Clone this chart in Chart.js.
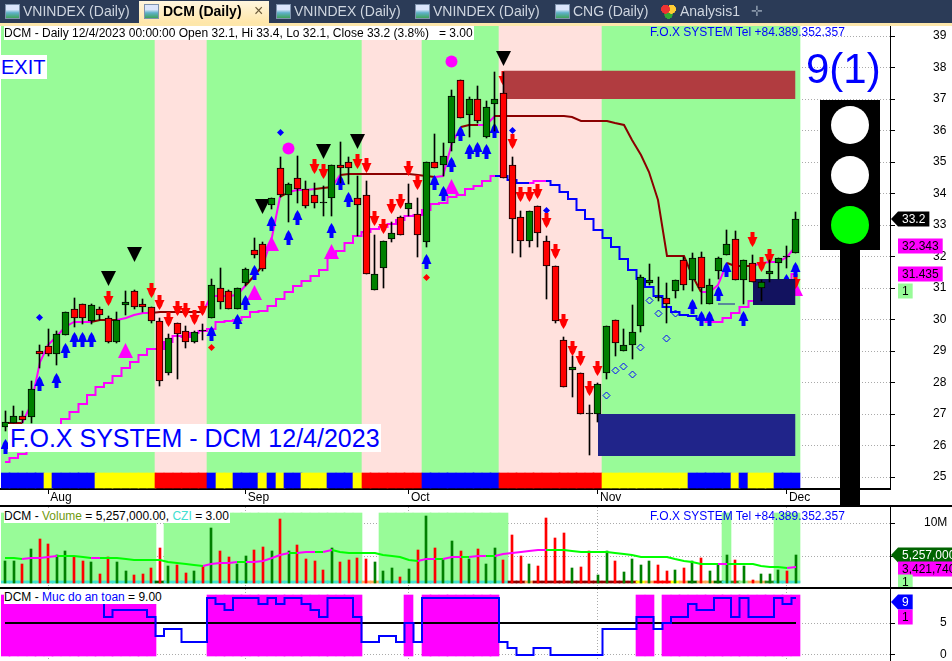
<!DOCTYPE html>
<html>
<head>
<meta charset="utf-8">
<title>DCM (Daily)</title>
<script src="https://cdn.jsdelivr.net/npm/chart.js@4/dist/chart.umd.js"></script>
<style>
  html, body { margin: 0; padding: 0; background: #fff; width: 952px; height: 661px; overflow: hidden; }
  body, div, span { font-family: "Liberation Sans", Arial, sans-serif; }
  canvas { position: absolute; left: 0; display: block; }
  .abs { position: absolute; white-space: pre; }
  #tabbar { position: absolute; left: 0; top: 0; width: 952px; height: 23px; background: #2b3b57; }
  #tabline { position: absolute; left: 0; top: 23px; width: 952px; height: 3px; background: #fde7ab; }
  #activetab { position: absolute; left: 139px; top: 1px; width: 130px; height: 22px; background: linear-gradient(#fff6df, #ffe6a8); }
  .tab { position: absolute; top: 3px; font-size: 14px; color: #cfd6e0; }
  .tab.on { color: #000; font-weight: bold; }
  .icon { position: absolute; top: 4px; width: 15px; height: 15px; background: linear-gradient(#dce6fb 35%, #5fb0c8 60%, #3fa35a); border: 1px solid #7f93ad; box-sizing: border-box; }
  .lbl { background: #fff; font-size: 12px; line-height: 14px; color: #000; }
  .fox { color: #0000ff; font-size: 12px; }
  .sep { position: absolute; left: 0; width: 952px; height: 2px; background: #000; }
</style>
</head>
<body>
<canvas id="mainChart" width="952" height="506" style="top:0"></canvas>
<canvas id="volChart" width="952" height="81" style="top:507px"></canvas>
<canvas id="safeChart" width="952" height="72" style="top:589px"></canvas>

<div class="sep" style="top:505px"></div>
<div class="sep" style="top:587px"></div>

<div id="tabbar"></div>
<div id="tabline"></div>
<div id="activetab"></div>
<div class="icon" style="left:5px"></div><div class="tab" style="left:23px">VNINDEX (Daily)</div>
<div class="icon" style="left:144px"></div><div class="tab on" style="left:163px">DCM (Daily)</div>
<div class="tab" style="left:254px;color:#6b5a3a;font-size:16px;top:2px">×</div>
<div class="icon" style="left:276px"></div><div class="tab" style="left:294px">VNINDEX (Daily)</div>
<div class="icon" style="left:415px"></div><div class="tab" style="left:433px">VNINDEX (Daily)</div>
<div class="icon" style="left:555px"></div><div class="tab" style="left:573px">CNG (Daily)</div>
<div class="icon" style="left:661px;border:0;background:radial-gradient(circle at 30% 35%,#e33 30%,transparent 32%),radial-gradient(circle at 70% 35%,#fc3 30%,transparent 32%),radial-gradient(circle at 50% 72%,#3a3 30%,transparent 32%)"></div>
<div class="tab" style="left:680px">Analysis1</div>
<div class="tab" style="left:751px;color:#8795a8">✛</div>

<div class="abs lbl" style="left:4px;top:26px;padding-right:1px">DCM - Daily 12/4/2023 00:00:00 Open 32.1, Hi 33.4, Lo 32.1, Close 33.2 (3.8%)   = 3.00</div>
<div class="abs fox" style="left:650px;top:25px">F.O.X SYSTEM Tel +84.389.352.357</div>
<div class="abs" style="left:0;top:55px;width:47px;height:24px;line-height:24px;background:#fff;color:#0000ff;font-size:20px;text-indent:1px">EXIT</div>
<div class="abs" style="left:8px;top:424px;width:373px;height:28px;line-height:28px;background:#fff;color:#0000ff;font-size:25px;text-indent:2px">F.O.X SYSTEM - DCM 12/4/2023</div>

<div class="abs" style="left:806px;top:45px;font-size:42px;line-height:48px;color:#0000ff">9(1)</div>
<div class="abs" style="left:820px;top:100px;width:60px;height:150px;background:#000"></div>
<div class="abs" style="left:840px;top:250px;width:20px;height:255px;background:#000"></div>
<div class="abs" style="left:831px;top:106px;width:38px;height:38px;border-radius:50%;background:#fff"></div>
<div class="abs" style="left:831px;top:156px;width:38px;height:38px;border-radius:50%;background:#fff"></div>
<div class="abs" style="left:831px;top:206px;width:38px;height:38px;border-radius:50%;background:#00ff00"></div>

<div class="abs lbl" style="left:4px;top:509px;padding-right:1px">DCM - <span style="color:#6f9a10">Volume</span> = 5,257,000.00, <span style="color:#40e0d0">CZI</span> = 3.00</div>
<div class="abs fox" style="left:650px;top:509px">F.O.X SYSTEM Tel +84.389.352.357</div>
<div class="abs lbl" style="left:4px;top:590px;padding-right:1px">DCM - <span style="color:#0000ff">Muc do an toan</span> = 9.00</div>

<script>
// daily bars, 12 Jul 2023 .. 4 Dec 2023
var open = [26.6,26.7,26.95,26.9,29.0,29.15,28.9,29.5,30.35,30.5,29.95,30.35,30.05,29.3,30.45,30.9,30.5,30.4,29.95,28.3,29.9,29.65,29.3,29.65,
  30.05,31.0,30.9,30.35,31.15,32.2,32.4,33.65,34.8,33.95,34.5,34.15,33.95,33.7,33.85,34.9,35.0,33.85,33.95,30.95,31.65,32.55,33.25,33.5,33.35,
  32.45,35.0,34.9,35.6,37.6,36.5,37.0,35.8,36.85,37.2,34.9,33.25,32.5,33.6,32.5,31.7,29.35,28.4,28.3,27.0,27.0,28.3,30.0,29.0,29.2,29.8,31.15,
  30.7,30.7,30.9,31.9,31.25,32.0,30.5,31.55,32.05,32.55,31.25,31.8,31.0,31.45,31.8,32.0,32.1];
var high = [27.1,27.25,27.1,28.05,29.2,29.7,29.65,30.25,30.7,30.5,30.5,30.4,30.1,30.25,30.9,30.95,30.65,30.4,30.05,29.55,29.9,29.8,29.65,29.85,
  31.3,31.65,30.95,31.0,31.65,32.6,32.45,33.85,35.15,34.35,35.2,34.4,34.35,34.25,34.9,35.65,35.15,34.55,34.4,32.7,32.5,33.1,33.3,34.3,33.85,
  35.0,35.9,35.6,37.3,37.6,37.05,37.4,36.95,37.85,37.85,35.15,33.45,33.45,33.6,32.65,31.7,29.45,28.85,28.3,27.3,28.0,29.8,30.0,29.7,30.45,31.4,31.75,
  31.35,31.15,31.25,32.0,32.1,32.15,31.3,32.0,32.85,32.8,31.9,32.05,31.25,31.9,31.95,32.35,33.4];
var low = [26.45,26.7,26.7,26.7,28.45,28.85,28.55,29.5,29.75,29.85,29.85,30.0,29.25,29.25,30.15,30.35,30.25,29.9,27.9,28.25,28.1,29.1,29.25,29.35,
  30.05,30.35,30.35,30.35,31.05,31.95,31.55,33.5,33.9,33.1,33.7,33.55,33.55,33.3,33.3,34.35,34.3,32.65,31.45,30.95,31.0,32.45,32.7,33.3,32.0,
  32.3,34.8,34.55,35.35,36.4,35.8,36.25,35.75,36.0,34.5,32.1,32.0,32.3,32.3,30.65,29.9,27.85,27.55,27.0,25.7,26.75,28.1,28.85,29.0,28.75,29.6,31.1,
  30.6,29.9,30.7,30.95,30.9,30.5,30.5,31.3,32.05,31.25,30.5,31.2,30.6,31.2,31.3,31.65,32.1];
var close = [26.75,26.95,26.8,27.8,28.9,28.9,29.55,30.25,30.05,30.05,30.45,30.15,29.3,30.0,30.55,30.4,30.4,29.95,28.05,29.4,29.55,29.3,29.6,29.65,
  31.1,30.55,30.35,31.0,31.6,32.05,31.6,33.85,33.95,34.3,34.15,33.6,33.7,33.7,34.9,34.8,34.8,33.65,31.45,31.45,32.5,32.75,32.7,33.7,32.7,
  35.0,34.8,35.2,37.1,36.4,37.0,36.3,36.75,37.0,34.5,33.2,32.5,33.45,32.75,31.7,29.95,27.85,28.5,27.0,27.0,27.95,29.8,29.25,29.2,29.6,31.35,31.25,
  30.7,30.5,31.25,31.1,31.95,31.0,31.1,31.95,32.4,31.25,31.9,31.2,31.2,31.55,31.95,32.0,33.2];

// volume in millions, and its moving average
var volume = [4.35,4.35,3.9,6.1,7.6,6.9,5.25,5.85,5.0,4.35,4.2,2.4,5.0,4.2,2.9,2.3,2.4,3.3,6.3,3.6,3.75,2.6,2.9,3.6,
  9.25,5.85,4.95,3.9,5.1,6.0,6.45,5.85,10.6,5.85,6.7,4.65,4.35,3.0,6.3,4.2,4.5,4.8,4.65,4.2,2.9,3.3,2.0,3.15,6.0,
  11.0,6.3,4.65,7.3,5.85,4.65,6.1,3.9,6.3,4.5,8.2,5.1,3.9,3.6,10.75,7.75,8.5,3.3,3.45,5.85,2.3,5.85,4.35,2.7,4.65,3.75,4.35,
  3.75,2.9,3.0,3.3,4.35,4.8,2.9,3.75,5.26,4.5,3.6,1.5,2.4,2.4,3.0,2.9,5.26];
var volumeAvg = [4.85,4.8,4.7,4.75,4.85,4.95,5.1,5.1,5.1,4.95,4.8,4.85,4.85,4.8,4.6,4.55,4.55,4.55,4.45,4.2,4.1,3.95,3.75,3.65,
  3.9,4.0,4.1,4.2,4.2,4.25,4.4,4.8,5.25,5.5,5.5,5.65,5.75,5.75,6.0,5.75,5.6,5.6,5.6,5.5,5.25,5.1,4.9,4.45,4.35,
  4.65,4.7,4.7,4.95,5.0,5.0,5.05,5.15,5.15,5.45,5.6,5.75,5.85,6.0,6.05,6.05,6.05,5.85,5.75,5.7,5.65,5.65,5.5,5.45,5.3,5.0,5.0,
  5.0,4.9,4.6,4.35,4.2,3.95,3.95,3.9,3.95,3.95,3.9,3.85,3.65,3.5,3.5,3.35,3.5];

// "Muc do an toan" safety level
var safety = [9,9,9,9,9,9,9,9,9,9,9,9,6,7,7,7,7,6,3,4,4,2,2,2,
  9,8,7,9,9,9,8,9,8,9,9,8,7,6,9,9,9,6,2,2,3,3,2,5,2,
  9,9,9,9,9,9,9,9,9,2,1,0,0,1,1,0,0,0,0,0,0,4,4,4,4,6,6,
  4,5,6,6,8,7,7,9,9,6,9,6,6,6,9,8,9];
var safetyLine = 5;

// slow stop line under the price, then above it
var slowStop = [25.48,25.59,25.73,25.85,26.04,26.3,26.55,26.84,27.07,27.31,27.6,27.85,27.98,28.2,28.46,28.66,28.87,29.05,29.08,29.28,29.47,29.45,29.57,29.63,
  29.7,29.92,29.96,29.98,30.09,30.25,30.26,30.43,30.65,30.87,31.07,31.22,31.39,31.57,32.05,32.18,32.43,32.65,32.77,32.86,32.94,33.04,33.15,33.29,33.31,
  33.47,33.66,33.7,33.88,33.95,34.13,34.24,34.4,34.56,34.55,34.42,34.34,34.34,34.4,34.4,34.27,34.04,33.82,33.47,33.2,32.84,32.58,32.31,31.92,31.58,31.28,31.04,
  30.74,30.4,30.25,30.14,30.11,30.01,29.93,29.93,30.05,30.21,30.4,30.59,30.68,30.87,31.03,31.19,31.435];
var slowColors = ('M'.repeat(58) + 'BBBB' + 'MM' + 'B'.repeat(18) + 'M'.repeat(11)).split('');

// fast stop line
var fastStop = [26.72,26.72,26.72,27.28,28.65,29.19,29.47,29.76,29.92,29.92,29.93,30.0,30.0,30.0,30.05,30.16,30.2,30.2,30.25,30.25,30.25,30.25,30.25,30.25,
  30.74,30.76,30.76,30.78,31.09,31.38,31.73,32.62,33.9,34.05,34.11,34.11,34.13,34.17,34.21,34.59,34.62,34.62,34.62,34.62,34.62,34.62,34.62,34.62,34.59,
  34.55,34.53,34.55,35.6,36.12,36.17,36.17,36.17,36.46,36.46,36.46,36.46,36.46,36.46,36.46,36.46,36.46,36.42,36.31,36.31,36.31,36.31,36.25,36.17,35.7,35.22,34.68,
  33.79,32.01,32.01,32.01,31.41,30.87,30.87,31.09,31.79,31.7,31.7,31.7,31.79,31.82,31.82,31.98,32.343];
var fastColors = ('DDD' + 'M'.repeat(8) + 'DDD' + 'MMMM' + 'D'.repeat(6) + 'M'.repeat(5) + 'DD' + 'MM' + 'D' + 'MMM' + 'DD' + 'M' + 'D'.repeat(11) + 'MMM' + 'DD' + 'MM' + 'D'.repeat(24) + 'MMM' + 'DDD' + 'M'.repeat(5)).split('');

// colour strip under the price pane and under the volume bars
var trendStrip = ('BBBBBYBBBBBYYYYYYYRRRRRRBYYBBBYBYBBYYYBBBYRRRRRRRBBBBBBBBBRRRRRRRRRRRRYYYYYYYYYYBBBBBYBYYYBBB').split('');
var czStrip = ('TTTTTTTTTTTTTTTTTTgTTTTTTTTTTTTTTTTTTTTTTTOOTTTTTTTTTTTTTTTDDODDDDDDDDDDDDYORRYOgOOgTGLOOGTTT').split('');

// signals: candle index + price
var blueUpX = [0,4,6,7,8,9,10,24,27,28,29,31,33,34,38,39,40,49,50,51,52,53,54,55,56,57,80,81,82,83,84,86,91,92];
var blueUpY = [25.96,27.96,28.06,29.02,29.38,29.38,29.38,29.57,29.93,30.55,31.5,33.04,32.62,33.23,32.84,34.35,33.82,31.83,34.36,34.01,34.93,35.9,35.35,35.41,35.35,36.01,30.43,30.03,30.03,30.82,31.6,30.03,31.22,31.6];
var redDownX = [12,17,18,19,20,21,22,23,36,37,41,42,43,44,45,46,47,48,58,59,60,61,62,63,64,65,66,67,68,69,87,88,89,92];
var redDownY = [30.67,30.93,30.55,30.01,30.36,30.3,30.08,30.36,34.87,34.69,35.03,34.9,33.2,32.95,33.58,33.74,34.79,34.35,37.66,35.65,33.96,33.96,34.06,33.14,32.15,29.93,29.09,28.77,27.82,28.45,32.54,31.74,32.0,31.22];
var sellX = [12,15,30,37,41,58];
var sellY = [31.31,32.06,33.58,35.33,35.65,38.28];
var buyX = [14,29,31,38,52,92];
var buyY = [29.03,30.85,32.43,32.17,34.23,31.0];
var peakX = [33,52];
var peakY = [35.43,38.2];
var blueDotX = [4,32,59,63];
var blueDotY = [30.05,35.95,35.99,33.47];
var redDotX = [24,49];
var redDotY = [29.1,31.35];
var hollowX = [70,71,72,73,74,75,76,77,78];
var hollowY = [27.6,28.39,28.52,28.27,29.12,30.61,30.2,29.41,30.2];

// target zones, from candle .. to candle, top .. bottom price
var zoneFrom = [58,69,87];
var zoneTo = [92,92,92];
var zoneTop = [37.9,27.0,31.29];
var zoneBottom = [37.0,25.67,30.46];
var zoneColors = ['#b13c40','#20248a','#12125f'];
var guideX = [83,85];
var guideY = [30.48,30.48];

// axes
var priceTicks = [25,26,27,28,29,30,31,32,33,34,35,36,37,38,39];
var monthTicks = [5,28,47,69,91];
var monthNames = ['Aug','Sep','Oct','Nov','Dec'];
var volumeTicks = [5,10];
var safetyTicks = [0,5];

var GREEN = '#008000', RED = '#ff0000', MAGENTA = '#ff00ff', BLUE = '#0000ff';
var stripPalette = { B: BLUE, Y: '#ffff00', R: RED };
var czPalette = { T: '#40e0d0', g: '#006400', O: '#ffa858', D: '#8b0000', Y: '#ffff00', R: RED, G: '#228b22', L: '#90ee90' };

function pts(xs, ys) {
  return xs.map(function (x, i) { return { x: x, y: ys[i] }; });
}
function series(ys) {
  return ys.map(function (y, i) { return { x: i, y: y }; });
}

// small pictures used as point styles
function sprite(w, h, color, path) {
  var c = document.createElement('canvas');
  c.width = w;
  c.height = h;
  var g = c.getContext('2d');
  g.fillStyle = color;
  g.beginPath();
  path.forEach(function (p, i) { i ? g.lineTo(p[0], p[1]) : g.moveTo(p[0], p[1]); });
  g.closePath();
  g.fill();
  return c;
}
var arrowUp = sprite(11, 15, BLUE, [[5.5,0],[8,4],[9,7],[10.5,10],[7.5,10],[7.5,15],[3.5,15],[3.5,10],[0.5,10],[2,7],[3,4]]);
var arrowDown = sprite(11, 15, RED, [[3.5,0],[7.5,0],[7.5,5],[10.5,5],[9,8],[8,11],[5.5,15],[3,11],[2,8],[0.5,5],[3.5,5]]);
var triDown = sprite(15, 15, '#000', [[0,0],[15,0],[7.5,15]]);
var triUp = sprite(15, 15, MAGENTA, [[7.5,0],[15,15],[0,15]]);

function marks(xs, ys, style, radius, order, color) {
  return {
    type: 'line', showLine: false, data: pts(xs, ys), order: order, snap: true,
    pointStyle: style, pointRadius: radius, pointBackgroundColor: color || '#000',
    pointBorderColor: color || '#000', pointBorderWidth: 0
  };
}

// keep bars and points on whole pixels like the original program does
var snapPlugin = {
  id: 'snap',
  beforeDatasetDraw: function (chart, args) {
    var meta = args.meta;
    var ds = chart.data.datasets[args.index];
    if (meta.type === 'bar') {
      meta.data.forEach(function (el) {
        el.x = el.width % 2 ? Math.floor(el.x) + 0.5 : Math.round(el.x);
        el.y = Math.round(el.y);
        el.base = Math.round(el.base);
      });
    } else if (ds.snap) {
      meta.data.forEach(function (el) {
        el.x = Math.floor(el.x) + 0.5;
        el.y = Math.floor(el.y) + 0.5;
      });
    } else if (ds.snapLine) {
      meta.data.forEach(function (el) {
        el.x = Math.round(el.x);
        el.y = Math.round(el.y);
      });
    }
  }
};

// value flags on the right axis
function tagPlugin(tags) {
  return {
    id: 'tags',
    afterDraw: function (chart) {
      var ctx = chart.ctx;
      var scale = chart.scales.y;
      ctx.save();
      ctx.font = '12px "Liberation Sans", Arial, sans-serif';
      ctx.textBaseline = 'middle';
      ctx.textAlign = 'left';
      tags.forEach(function (t) {
        var cy = Math.round(scale.getPixelForValue(t.at));
        var right = 902 + ctx.measureText(t.text).width + 4;
        ctx.fillStyle = t.bg;
        ctx.beginPath();
        if (t.arrow) {
          ctx.moveTo(891, cy);
          ctx.lineTo(898, cy - 7.5);
        } else {
          ctx.moveTo(898, cy);
          ctx.lineTo(898, cy - 7.5);
        }
        ctx.lineTo(right, cy - 7.5);
        ctx.lineTo(right, cy + 7.5);
        ctx.lineTo(898, cy + 7.5);
        ctx.closePath();
        ctx.fill();
        ctx.fillStyle = t.fg;
        ctx.fillText(t.text, 902, cy + 1);
      });
      ctx.restore();
    }
  };
}

function xAxis(showLabels) {
  return {
    type: 'linear', min: -0.5, max: 103, offset: false, bounds: 'data',
    grid: { color: '#aaaaaa', offset: false, drawTicks: showLabels, tickLength: 5, tickColor: '#000' },
    border: { display: showLabels, color: '#000', width: 2, dash: [1, 2] },
    afterBuildTicks: function (s) { s.ticks = monthTicks.map(function (v) { return { value: v }; }); },
    afterFit: function (s) {
      s.height = showLabels ? 17 : 0;
      s.paddingLeft = 0;
      s.paddingRight = 0;
    },
    ticks: {
      display: showLabels, autoSkip: false, maxRotation: 0, minRotation: 0, align: 'start', labelOffset: 2, padding: -4,
      color: '#000', font: { size: 12, family: '"Liberation Sans", Arial, sans-serif' },
      callback: function (v) { return monthNames[monthTicks.indexOf(v)]; }
    }
  };
}

function yAxis(min, max, tickList, pad, label) {
  return {
    type: 'linear', position: 'right', min: min, max: max, bounds: 'data', beginAtZero: false,
    grid: { color: '#aaaaaa', tickLength: 5, tickColor: '#000' },
    border: { color: '#000', width: 1, dash: [1, 2] },
    afterBuildTicks: function (s) { s.ticks = tickList.map(function (v) { return { value: v }; }); },
    afterFit: function (s) {
      s.width = 62;
      s.paddingTop = 0;
      s.paddingBottom = 0;
    },
    ticks: {
      autoSkip: false, padding: pad, color: '#000', font: { size: 12, family: '"Liberation Sans", Arial, sans-serif' },
      callback: label || function (v) { return v; }
    }
  };
}

function baseOptions(scales, padTop) {
  return {
    responsive: false, animation: false, devicePixelRatio: 1, events: [],
    layout: { autoPadding: false, padding: { left: 1, right: 0, top: padTop, bottom: 0 } },
    plugins: { legend: { display: false }, tooltip: { enabled: false } },
    scales: scales
  };
}

function bandBars(indexes, low, top, colors, order) {
  return {
    type: 'bar', grouped: false, barThickness: 9, order: order, borderWidth: 0,
    data: indexes.map(function (k) { return { x: k, y: [low, top] }; }),
    backgroundColor: colors
  };
}

var allIdx = close.map(function (c, i) { return i; });

// ----- price pane
var PRICE_MIN = 24.62, PRICE_MAX = 39.32, BAND_LOW = 25.13, STRIP_LOW = 24.65;

var mainSets = [
  bandBars(allIdx, BAND_LOW, PRICE_MAX, trendStrip.map(function (c) { return c === 'R' ? '#ffe1dd' : '#98fb98'; }), 100),
  bandBars(allIdx, STRIP_LOW, BAND_LOW, trendStrip.map(function (c) { return stripPalette[c]; }), 90),
  {
    type: 'line', data: series(slowStop), order: 60, stepped: 'middle', pointRadius: 0, borderWidth: 2, snapLine: true,
    borderColor: MAGENTA, borderJoinStyle: 'miter',
    segment: { borderColor: function (c) { return slowColors[c.p1DataIndex] === 'B' ? BLUE : MAGENTA; } }
  },
  {
    type: 'line', data: series(fastStop), order: 61, pointRadius: 0, borderWidth: 2, snapLine: true,
    borderColor: '#8b0000', borderJoinStyle: 'miter',
    segment: { borderColor: function (c) { return fastColors[c.p1DataIndex] === 'M' ? MAGENTA : '#8b0000'; } }
  },
  { type: 'line', data: pts(guideX, guideY), order: 58, pointRadius: 0, borderWidth: 1, borderColor: '#1a1a9c', snapLine: true },
  marks(blueUpX, blueUpY, arrowUp, 8, 50),
  marks(redDownX, redDownY, arrowDown, 8, 50),
  marks(sellX, sellY, triDown, 8, 50),
  marks(buyX, buyY, triUp, 8, 50),
  marks(peakX, peakY, 'circle', 6, 50, MAGENTA),
  marks(blueDotX, blueDotY, 'rectRot', 3.5, 50, BLUE),
  marks(redDotX, redDotY, 'rectRot', 3.5, 50, RED),
  {
    type: 'line', showLine: false, data: pts(hollowX, hollowY), order: 50, snap: true,
    pointStyle: 'rectRot', pointRadius: 3.5, pointBackgroundColor: 'rgba(0,0,0,0)', pointBorderColor: BLUE, pointBorderWidth: 1
  },
  {
    type: 'bar', grouped: false, barThickness: 1, order: 20, borderWidth: 0, backgroundColor: '#000',
    data: allIdx.map(function (k) { return { x: k, y: [low[k], high[k]] }; })
  },
  {
    type: 'bar', grouped: false, barThickness: 7, order: 10, borderWidth: 1, borderColor: '#000', borderSkipped: false, minBarLength: 1,
    data: allIdx.map(function (k) { return { x: k, y: [open[k], close[k]] }; }),
    backgroundColor: allIdx.map(function (k) { return close[k] > open[k] ? GREEN : close[k] < open[k] ? RED : '#000'; })
  }
];
// each zone is a top edge filled down to a bottom edge
zoneFrom.forEach(function (from, i) {
  mainSets.push({
    type: 'line', order: 40 - i, pointRadius: 0, borderWidth: 0, fill: '+1', backgroundColor: zoneColors[i], snapLine: true,
    data: pts([from, zoneTo[i]], [zoneTop[i], zoneTop[i]])
  });
  mainSets.push({
    type: 'line', order: 40 - i, pointRadius: 0, borderWidth: 0, fill: false, snapLine: true,
    data: pts([from, zoneTo[i]], [zoneBottom[i], zoneBottom[i]])
  });
});

new Chart(document.getElementById('mainChart'), {
  type: 'bar',
  data: { datasets: mainSets },
  options: baseOptions({ x: xAxis(true), y: yAxis(PRICE_MIN, PRICE_MAX, priceTicks, 38) }, 26),
  plugins: [snapPlugin, tagPlugin([
    { at: 33.2, text: '33.2', bg: '#000', fg: '#fff', arrow: true },
    { at: 32.343, text: '32.343', bg: MAGENTA, fg: '#000' },
    { at: 31.435, text: '31.435', bg: MAGENTA, fg: '#000' },
    { at: 30.92, text: '1', bg: '#98fb98', fg: '#000' }
  ])]
});

// ----- volume pane
var VOL_MIN = 0.34, VOL_MAX = 12.38, VOL_BASE = 1.08, VOL_STRIP = 1.45, VOL_BAND_TOP = 11.49;
var tealIdx = allIdx.filter(function (k) { return czStrip[k] === 'T'; });

new Chart(document.getElementById('volChart'), {
  type: 'bar',
  data: {
    datasets: [
      bandBars(tealIdx, VOL_BASE, VOL_BAND_TOP, '#98fb98', 100),
      bandBars(allIdx, VOL_BASE, VOL_STRIP, czStrip.map(function (c) { return czPalette[c]; }), 90),
      {
        type: 'line', data: series(volumeAvg), order: 5, pointRadius: 0, borderWidth: 2, borderColor: '#00ff00', snapLine: true,
        segment: { borderColor: function (c) { return c.p1.parsed.y > c.p0.parsed.y ? MAGENTA : '#00ff00'; } }
      },
      {
        type: 'bar', grouped: false, barThickness: 2, order: 10, borderWidth: 0, base: VOL_BASE,
        data: series(volume),
        backgroundColor: allIdx.map(function (k) { return close[k] > open[k] ? GREEN : RED; })
      }
    ]
  },
  options: baseOptions({
    x: xAxis(false),
    y: yAxis(VOL_MIN, VOL_MAX, volumeTicks, 29, function (v) { return v === 10 ? '10M' : ''; })
  }, 0),
  plugins: [snapPlugin, tagPlugin([
    { at: 5.257, text: '5,257,000', bg: '#006400', fg: '#fff', arrow: true },
    { at: 3.15, text: '3,421,740', bg: MAGENTA, fg: '#000' },
    { at: 1.23, text: '1', bg: '#98fb98', fg: '#000' }
  ])]
});

// ----- safety pane
var SAFE_MIN = -1.03, SAFE_MAX = 10.4, SAFE_BAND_LOW = -0.2, SAFE_BAND_TOP = 9.4;
var safeIdx = allIdx.filter(function (k) { return safety[k] >= safetyLine; });

new Chart(document.getElementById('safeChart'), {
  type: 'bar',
  data: {
    datasets: [
      bandBars(safeIdx, SAFE_BAND_LOW, SAFE_BAND_TOP, MAGENTA, 100),
      {
        type: 'line', order: 20, pointRadius: 0, borderWidth: 2, borderColor: '#000', snapLine: true,
        data: series(safety.map(function () { return safetyLine; }))
      },
      {
        type: 'line', order: 10, stepped: 'middle', pointRadius: 0, borderWidth: 2, borderColor: BLUE, borderJoinStyle: 'miter', snapLine: true,
        data: series(safety)
      }
    ]
  },
  options: baseOptions({ x: xAxis(false), y: yAxis(SAFE_MIN, SAFE_MAX, safetyTicks, 45) }, 0),
  plugins: [snapPlugin, tagPlugin([
    { at: 8.41, text: '9', bg: BLUE, fg: '#fff', arrow: true },
    { at: 6.03, text: '1', bg: MAGENTA, fg: '#000' }
  ])]
});
</script>
</body>
</html>
